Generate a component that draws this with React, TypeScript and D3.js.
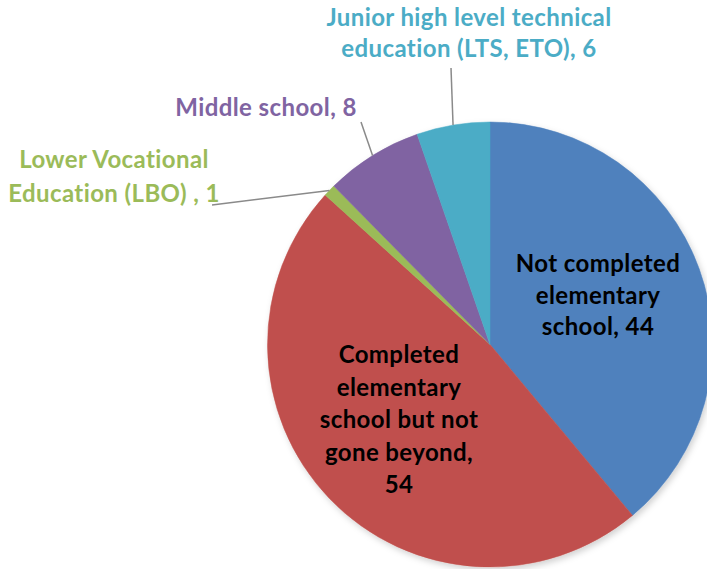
import React from "react";
import * as d3 from "d3";

const categories = [
  "Not completed elementary school",
  "Completed elementary school but not gone beyond",
  "Lower Vocational Education (LBO)",
  "Middle school",
  "Junior high level technical education (LTS, ETO)",
];
const values = [44, 54, 1, 8, 6];
const colors = ["#4F81BD", "#C0504D", "#9BBB59", "#8064A2", "#4BACC6"];
const labelLines = [
  ["Not completed", "elementary", "school, 44"],
  ["Completed", "elementary", "school but not", "gone beyond,", "54"],
  ["Lower Vocational", "Education (LBO) , 1"],
  ["Middle school, 8"],
  ["Junior high level technical", "education (LTS, ETO), 6"],
];

const W = 707;
const H = 569;
const cx = 490;
const cy = 344.5;
const R = 222.5;
const FONT = "Lato, 'Open Sans', sans-serif";

type LabelLayout = {
  inside: boolean;
  x: number;
  y: number; // first baseline
  lh: number;
  size: number;
  leader?: [number, number][];
};
const layout: LabelLayout[] = [
  { inside: true, x: 598, y: 272, lh: 31.5, size: 24 },
  { inside: true, x: 399, y: 363, lh: 32.5, size: 24 },
  { inside: false, x: 114, y: 168, lh: 34, size: 24, leader: [[212, 205]] },
  { inside: false, x: 266, y: 116, lh: 32, size: 24, leader: [[361, 122]] },
  { inside: false, x: 469, y: 26, lh: 31, size: 24, leader: [[451, 68]] },
];

export default function App() {
  const pie = d3
    .pie<number>()
    .sort(null)
    .value((d) => d)
    .startAngle(0)
    .endAngle(2 * Math.PI);
  const arcs = pie(values);
  const arc = d3.arc<d3.PieArcDatum<number>>().innerRadius(0).outerRadius(R);

  return (
    <svg
      width={W}
      height={H}
      style={{ position: "absolute", left: 0, top: 0, background: "#fff" }}
    >
      <defs>
        <filter id="sh" x="-20%" y="-20%" width="140%" height="140%">
          <feDropShadow dx="2" dy="3" stdDeviation="3" floodColor="#000" floodOpacity="0.18" />
        </filter>
      </defs>
      <g transform={`translate(${cx},${cy})`}>
        <g filter="url(#sh)">
          {arcs.map((a, i) => (
            <path key={i} d={arc(a) || ""} fill={colors[i]} stroke={colors[i]} strokeWidth={0.5} />
          ))}
        </g>
      </g>
      {arcs.map((a, i) => {
        const L = layout[i];
        if (!L.leader) return null;
        const mid = (a.startAngle + a.endAngle) / 2;
        const sx = cx + R * Math.sin(mid);
        const sy = cy - R * Math.cos(mid);
        const pts = [[sx, sy], ...L.leader];
        const line = d3.line()(pts as [number, number][]);
        return (
          <path key={"l" + i} d={line || ""} fill="none" stroke="#8a8a8a" strokeWidth={1.5} />
        );
      })}
      {labelLines.map((lines, i) => {
        const L = layout[i];
        return (
          <text
            key={"t" + i}
            x={L.x}
            y={L.y}
            textAnchor="middle"
            fontFamily={FONT}
            fontWeight={700}
            fontSize={L.size}
            letterSpacing={0.4}
            fill={L.inside ? "#000" : colors[i]}
          >
            {lines.map((ln, j) => (
              <tspan key={j} x={L.x} y={L.y + j * L.lh}>
                {ln}
              </tspan>
            ))}
          </text>
        );
      })}
    </svg>
  );
}
